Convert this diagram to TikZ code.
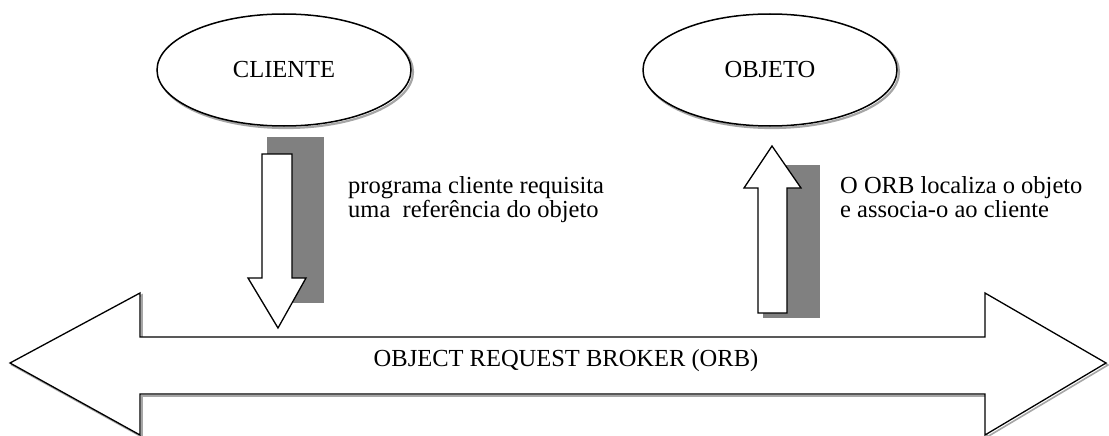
\documentclass[tikz,border=0pt]{standalone}
\usepackage{fontspec}
\setmainfont{Liberation Serif}
\usetikzlibrary{shapes.geometric}
\begin{document}
\begin{tikzpicture}[x=1pt,y=-1pt,
  lbl/.style={font=\fontsize{24.5}{23.5}\selectfont, inner sep=0pt, align=left},
  oval/.style={ellipse, draw, line width=1.5pt, fill=white,
    minimum width=254pt, minimum height=112pt, inner sep=0pt,
    font=\fontsize{24.5}{23.5}\selectfont,
    preaction={draw=gray!70, line width=2.2pt, transform canvas={shift={(2pt,-2pt)}}}},
  blockarrow/.style={draw, line width=1.3pt, fill=white, line join=miter},
  arrowshadow/.style={draw=gray!70, line width=1.6pt},
  shadowbar/.style={fill=gray}]
\useasboundingbox (0,0) rectangle (1109,436);

% ellipses
\node[oval] (cliente) at (284,70) {CLIENTE};
\node[oval] (objeto) at (770,70) {OBJETO};

% shadow bars
\fill[shadowbar] (267,137) rectangle (324,303);
\fill[shadowbar] (763,165) rectangle (820,318);

% block arrows
\draw[blockarrow] (262,154) -- (292,154) -- (292,278) -- (306,278) -- (278,328)
  -- (248,278) -- (262,278) -- cycle;
\draw[blockarrow] (758,313) -- (787,313) -- (787,188) -- (801,188) -- (772,146)
  -- (744,188) -- (758,188) -- cycle;

% big double arrow (ORB)
\draw[arrowshadow, transform canvas={shift={(2pt,-2pt)}}] (10,363) -- (140,293) -- (140,337) -- (985,337) -- (985,293)
  -- (1106,363) -- (985,435) -- (985,394) -- (140,394) -- (140,435) -- cycle;
\draw[blockarrow] (10,363) -- (140,293) -- (140,337) -- (985,337) -- (985,293)
  -- (1106,363) -- (985,435) -- (985,394) -- (140,394) -- (140,435) -- cycle;

% texts
\node[lbl, anchor=base] (orb) at (566,366) {OBJECT REQUEST BROKER (ORB)};
\node[lbl, anchor=base west] (req) at (348,217) {programa cliente requisita\\uma\ \ referência do objeto};
\node[lbl, anchor=base west] (loc) at (840,217) {O ORB localiza o objeto\\e associa-o ao cliente};
\end{tikzpicture}
\end{document}
